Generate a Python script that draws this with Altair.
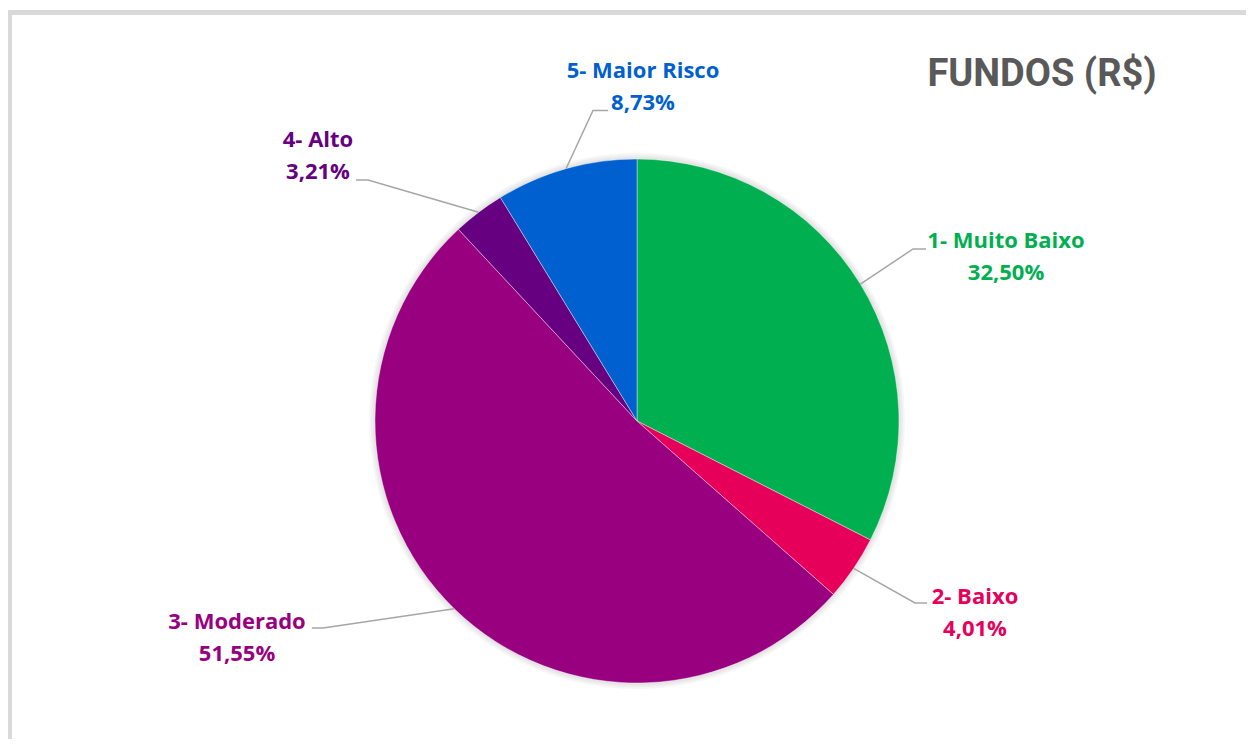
import math
import altair as alt
import pandas as pd

# ---- data ----
categories = ["1- Muito Baixo", "2- Baixo", "3- Moderado", "4- Alto", "5- Maior Risco"]
values = [32.50, 4.01, 51.55, 3.21, 8.73]
slice_colors = ["#00B050", "#E6005A", "#990080", "#660080", "#0060D0"]
title_text = "FUNDOS (R$)"

# ---- layout (pixels in chart space) ----
W, H = 1238, 731
CX, CY, R = 629, 413, 262
label_centers = [(998, 249), (967, 605), (229, 629.5), (310, 148), (635, 78.5)]
leader_elbows = [(905, 241), (907, 595), (315, 620), (360, 172), (585, 102.5)]
leader_ends = [(918, 241), (919, 595), (304, 620), (348, 172), (600, 102.5)]

pct_text = [f"{v:.2f}".replace(".", ",") + "%" for v in values]
df = pd.DataFrame({"cat": categories, "value": values, "order": range(len(values)), "pct": pct_text})

# mid-angles derived from values
total = sum(values)
mids = []
acc = 0.0
for v in values:
    mids.append((acc + v / 2) / total * 2 * math.pi)
    acc += v

lines_rows = []
for i, c in enumerate(categories):
    ex = CX + R * math.sin(mids[i])
    ey = CY - R * math.cos(mids[i])
    lines_rows.append({"cat": c, "pt": 0, "x": ex, "y": ey})
    lines_rows.append({"cat": c, "pt": 1, "x": leader_elbows[i][0], "y": leader_elbows[i][1]})
    lines_rows.append({"cat": c, "pt": 2, "x": leader_ends[i][0], "y": leader_ends[i][1]})
lines_df = pd.DataFrame(lines_rows)

lab_df = pd.DataFrame({
    "cat": categories,
    "pct": pct_text,
    "x": [p[0] for p in label_centers],
    "y1": [p[1] - 16 for p in label_centers],
    "y2": [p[1] + 16 for p in label_centers],
})

xs = alt.Scale(domain=[0, W], range=[0, W], nice=False, zero=False)
ys = alt.Scale(domain=[0, H], range=[0, H], nice=False, zero=False)
cscale = alt.Scale(domain=categories, range=slice_colors)

one = pd.DataFrame({"k": [0]})

frame_top = alt.Chart(one).mark_rule(color="#D9D9D9", strokeWidth=5).encode(
    x=alt.value(0), x2=alt.value(W), y=alt.value(4.5))
frame_left = alt.Chart(one).mark_rule(color="#D9D9D9", strokeWidth=5).encode(
    x=alt.value(1.5), y=alt.value(2), y2=alt.value(H))

shadows = [
    alt.Chart(one).mark_arc(radius=R + d, theta=0, theta2=2 * math.pi, color="black", opacity=0.035).encode(
        x=alt.value(CX), y=alt.value(CY))
    for d in (2, 4, 6)
]

pie = alt.Chart(df).mark_arc(radius=R, stroke="white", strokeWidth=0.4).encode(
    theta=alt.Theta("value:Q", stack=True),
    color=alt.Color("cat:N", scale=cscale, legend=None),
    order=alt.Order("order:Q"),
    x=alt.value(CX), y=alt.value(CY),
)

leaders = alt.Chart(lines_df).mark_line(color="#A6A6A6", strokeWidth=1.5).encode(
    x=alt.X("x:Q", scale=xs, axis=None),
    y=alt.Y("y:Q", scale=ys, axis=None),
    detail="cat:N",
    order="pt:Q",
)

LFONT = "Open Sans"
LSIZE = 22
lab1 = alt.Chart(lab_df).mark_text(font=LFONT, fontSize=LSIZE, fontWeight="bold", align="center", baseline="middle").encode(
    x=alt.X("x:Q", scale=xs, axis=None),
    y=alt.Y("y1:Q", scale=ys, axis=None),
    text="cat:N",
    color=alt.Color("cat:N", scale=cscale, legend=None),
)
lab2 = alt.Chart(lab_df).mark_text(font=LFONT, fontSize=LSIZE, fontWeight="bold", align="center", baseline="middle").encode(
    x=alt.X("x:Q", scale=xs, axis=None),
    y=alt.Y("y2:Q", scale=ys, axis=None),
    text="pct:N",
    color=alt.Color("cat:N", scale=cscale, legend=None),
)

title = alt.Chart(pd.DataFrame({"t": [title_text]})).mark_text(
    font="Roboto", fontSize=38, fontWeight="bold", color="#595959", align="center", baseline="middle").encode(
    x=alt.value(1034), y=alt.value(67), text="t:N")

chart = alt.layer(frame_top, frame_left, *shadows, pie, leaders, lab1, lab2, title).properties(
    width=W, height=H, autosize=alt.AutoSizeParams(type="none"), padding=0, background="white"
).configure_view(stroke=None)

chart.save("out.html", embed_options={"renderer": "svg", "actions": False})
